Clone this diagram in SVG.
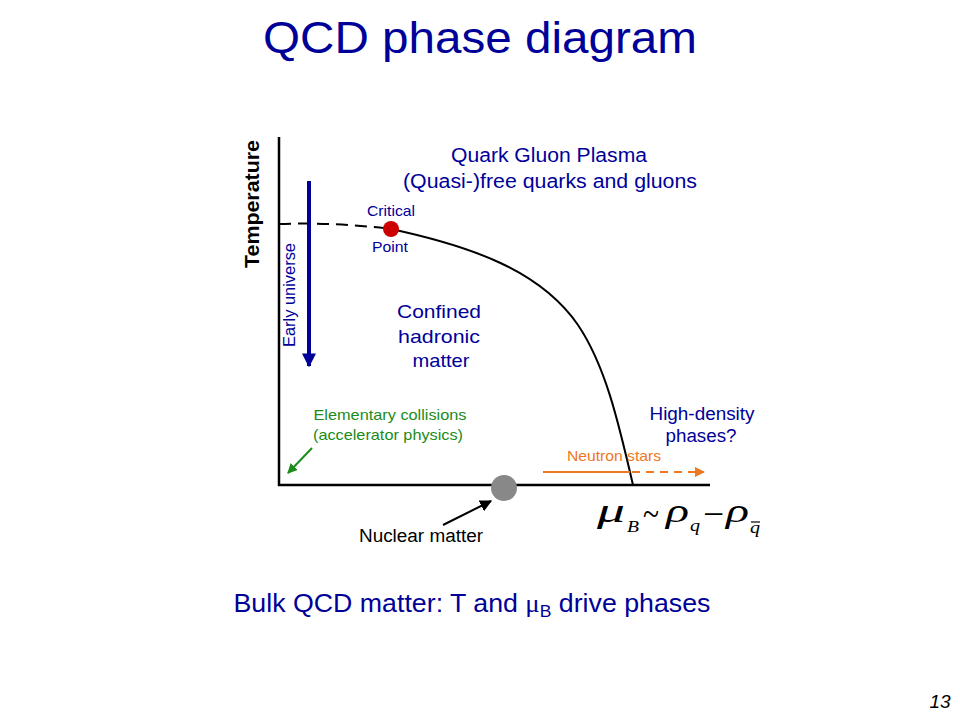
<svg xmlns="http://www.w3.org/2000/svg" width="960" height="720" viewBox="0 0 960 720">
<style>
text{font-family:"Liberation Sans",Arial,sans-serif}
.blue{fill:#000099}
.green{fill:#1a8c1a}
.orange{fill:#ee7722}
text.math{font-family:"Liberation Serif","Times New Roman",serif;font-style:italic}
text.up{font-family:"Liberation Serif","Times New Roman",serif}
</style>
<defs>
<marker id="mBlue" viewBox="0 0 10 10" refX="9" refY="5" markerWidth="3.5" markerHeight="3.5" orient="auto"><path d="M0,0 L10,5 L0,10 z" fill="#000099"/></marker>
<marker id="mGreen" viewBox="0 0 10 10" refX="9" refY="5" markerWidth="5" markerHeight="5" orient="auto"><path d="M0,0 L10,5 L0,10 z" fill="#1a8c1a"/></marker>
<marker id="mBlack" viewBox="0 0 10 10" refX="9" refY="5" markerWidth="6" markerHeight="6" orient="auto"><path d="M0,0 L10,5 L0,10 z" fill="#000"/></marker>
<marker id="mOrange" viewBox="0 0 10 10" refX="9" refY="5" markerWidth="5" markerHeight="5" orient="auto"><path d="M0,0 L10,5 L0,10 z" fill="#ee7722"/></marker>
</defs>
<rect width="960" height="720" fill="#fff"/>
<text x="480" y="53" text-anchor="middle" font-size="44" textLength="434" lengthAdjust="spacingAndGlyphs" class="blue">QCD phase diagram</text>

<g id="axes">
<line x1="279" y1="137" x2="279" y2="486" stroke="#000" stroke-width="2.5"/>
<line x1="278" y1="485" x2="710" y2="485" stroke="#000" stroke-width="2.5"/>
<text transform="translate(259,204) rotate(-90)" text-anchor="middle" font-size="21" font-weight="bold" textLength="128" lengthAdjust="spacingAndGlyphs">Temperature</text>
</g>

<g id="connectors">
<path d="M279,224 Q335,222 391,229" fill="none" stroke="#000" stroke-width="2" stroke-dasharray="12,7"/>
<path d="M391,229 C470,246 540,270 578,325 C605,365 618,420 633,485" fill="none" stroke="#000" stroke-width="2"/>
<line x1="309" y1="181" x2="309" y2="366" stroke="#000099" stroke-width="4" marker-end="url(#mBlue)"/>
<line x1="312" y1="448" x2="288" y2="473" stroke="#1a8c1a" stroke-width="2" marker-end="url(#mGreen)"/>
<line x1="443" y1="525" x2="491" y2="501" stroke="#000" stroke-width="2" marker-end="url(#mBlack)"/>
<line x1="543" y1="472" x2="630" y2="472" stroke="#ee7722" stroke-width="2"/>
<line x1="632" y1="472" x2="704" y2="472" stroke="#ee7722" stroke-width="2" stroke-dasharray="8,6" marker-end="url(#mOrange)"/>
</g>

<g id="critical-point">
<circle cx="391" cy="229" r="8" fill="#cc0000"/>
<text x="391" y="216" text-anchor="middle" font-size="15" textLength="48" lengthAdjust="spacingAndGlyphs" class="blue">Critical</text>
<text x="390" y="252" text-anchor="middle" font-size="15" textLength="36" lengthAdjust="spacingAndGlyphs" class="blue">Point</text>
</g>

<g id="nuclear-matter">
<circle cx="504" cy="488" r="13" fill="#888"/>
<text x="421" y="542" text-anchor="middle" font-size="18" textLength="124" lengthAdjust="spacingAndGlyphs">Nuclear matter</text>
</g>

<g id="qgp">
<text x="549" y="162" text-anchor="middle" font-size="20" textLength="196" lengthAdjust="spacingAndGlyphs" class="blue">Quark Gluon Plasma</text>
<text x="550" y="188" text-anchor="middle" font-size="20" textLength="294" lengthAdjust="spacingAndGlyphs" class="blue">(Quasi-)free quarks and gluons</text>
</g>

<g id="hadronic">
<text x="439" y="318" text-anchor="middle" font-size="19" textLength="84" lengthAdjust="spacingAndGlyphs" class="blue">Confined</text>
<text x="439" y="343" text-anchor="middle" font-size="19" textLength="82" lengthAdjust="spacingAndGlyphs" class="blue">hadronic</text>
<text x="441" y="367" text-anchor="middle" font-size="19" textLength="57" lengthAdjust="spacingAndGlyphs" class="blue">matter</text>
</g>

<g id="early-universe">
<text transform="translate(295,295) rotate(-90)" text-anchor="middle" font-size="16" textLength="104" lengthAdjust="spacingAndGlyphs" class="blue">Early universe</text>
</g>

<g id="elementary">
<text x="390" y="420" text-anchor="middle" font-size="15" textLength="153" lengthAdjust="spacingAndGlyphs" class="green">Elementary collisions</text>
<text x="388" y="440" text-anchor="middle" font-size="15" textLength="150" lengthAdjust="spacingAndGlyphs" class="green">(accelerator physics)</text>
</g>

<g id="high-density">
<text x="702" y="420" text-anchor="middle" font-size="18" textLength="105" lengthAdjust="spacingAndGlyphs" class="blue">High-density</text>
<text x="701" y="442" text-anchor="middle" font-size="18" textLength="71" lengthAdjust="spacingAndGlyphs" class="blue">phases?</text>
</g>

<g id="neutron-stars">
<text x="614" y="461" text-anchor="middle" font-size="15" textLength="94" lengthAdjust="spacingAndGlyphs" class="orange">Neutron stars</text>
</g>

<g id="formula">
<text class="math" x="597" y="522" font-size="34" textLength="28" lengthAdjust="spacingAndGlyphs">μ</text>
<text class="math" x="627" y="532" font-size="17" textLength="12" lengthAdjust="spacingAndGlyphs">B</text>
<text class="up" x="643" y="526" font-size="36" textLength="16" lengthAdjust="spacingAndGlyphs">~</text>
<text class="math" x="666" y="522" font-size="34" textLength="23" lengthAdjust="spacingAndGlyphs">ρ</text>
<text class="math" x="690" y="531" font-size="17" textLength="10" lengthAdjust="spacingAndGlyphs">q</text>
<text class="up" x="703" y="526" font-size="36" textLength="21" lengthAdjust="spacingAndGlyphs">−</text>
<text class="math" x="726" y="522" font-size="34" textLength="23" lengthAdjust="spacingAndGlyphs">ρ</text>
<text class="math" x="750" y="533" font-size="17" textLength="10" lengthAdjust="spacingAndGlyphs">q</text>
<line x1="751" y1="522" x2="760" y2="522" stroke="#000" stroke-width="1.2"/>
</g>

<text x="472" y="612" text-anchor="middle" font-size="26" textLength="477" lengthAdjust="spacingAndGlyphs" class="blue">Bulk QCD matter: T and <tspan font-family="'Liberation Serif',serif">μ</tspan><tspan font-size="17" dy="5">B</tspan><tspan dy="-5"> drive phases</tspan></text>

<text x="940" y="708" text-anchor="middle" font-size="19" font-style="italic">13</text>
</svg>
